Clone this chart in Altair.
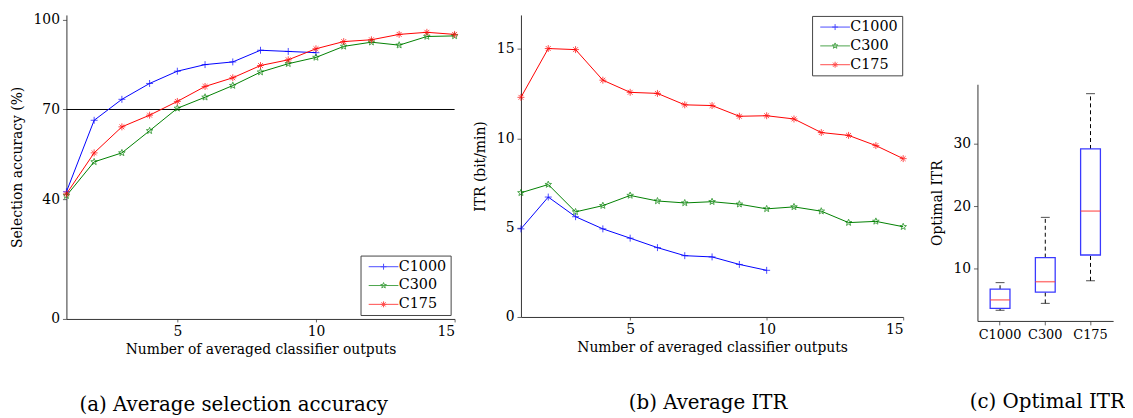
import math
import altair as alt
import pandas as pd

# ---------------- data ----------------
steps = [1, 2, 3, 4, 5, 6, 7, 8, 9, 10, 11, 12, 13, 14, 15]
series = ["C1000", "C300", "C175"]
colors = ["#0000ff", "#008000", "#ff0000"]

acc_c1000 = [42.5, 66.4, 73.4, 78.7, 82.8, 85.0, 85.9, 89.8, 89.4, 89.0]
acc_c300 = [41.2, 52.5, 55.5, 62.9, 70.4, 74.1, 78.0, 82.5, 85.3, 87.4, 91.1, 92.5, 91.5, 94.4, 94.6]
acc_c175 = [41.8, 55.5, 64.2, 68.1, 72.7, 77.7, 80.6, 84.7, 86.6, 90.3, 92.7, 93.3, 95.1, 95.8, 95.1]
acc_threshold = [70]

itr_c1000 = [4.93, 6.71, 5.61, 4.93, 4.41, 3.88, 3.43, 3.36, 2.94, 2.61]
itr_c300 = [6.95, 7.41, 5.88, 6.23, 6.80, 6.49, 6.38, 6.45, 6.31, 6.05, 6.16, 5.92, 5.28, 5.35, 5.05]
itr_c175 = [12.29, 15.02, 14.96, 13.25, 12.57, 12.51, 11.87, 11.83, 11.23, 11.26, 11.08, 10.32, 10.16, 9.59, 8.86]

box_whisker_low = [3.4, 4.5, 8.1]
box_q1 = [3.7, 6.3, 12.2]
box_median = [5.05, 7.95, 19.2]
box_q3 = [6.75, 11.8, 29.1]
box_whisker_high = [7.8, 18.2, 37.9]

acc_ticks = [0, 40, 70, 100]
itr_ticks = [0, 5, 10, 15]
opt_ticks = [10, 20, 30]
x_ticks = [5, 10, 15]

FONT = "DejaVu Serif"
CAP_SIZE = 20

# ---------------- marker shapes ----------------
def star_path(cx=0.0):
    pts = []
    for k in range(10):
        a = math.radians(-90 + 36 * k)
        r = 1.0 if k % 2 == 0 else 0.42
        pts.append((cx + r * math.cos(a), r * math.sin(a)))
    return "M" + "L".join(f"{x:.3f},{y:.3f}" for x, y in pts) + "Z"

def plus_path(cx=0.0):
    return f"M{cx-1},0L{cx+1},0M{cx},-1L{cx},1"

def aster_path(cx=0.0):
    return (f"M{cx-1},0L{cx+1},0M{cx},-1L{cx},1"
            f"M{cx-0.7},-0.7L{cx+0.7},0.7M{cx-0.7},0.7L{cx+0.7},-0.7")

marker_paths = [plus_path(), star_path(), aster_path()]
legend_paths = ["M-1,0L9,0" + plus_path(4), "M-1,0L9,0" + star_path(4), "M-1,0L9,0" + aster_path(4)]


def long_df(vals):
    rows = []
    for s, v in zip(series, vals):
        for x, y in zip(steps, v):
            rows.append({"series": s, "step": x, "value": y})
    return pd.DataFrame(rows)


def make_legend(orient, offset):
    return alt.Legend(
        title=None, orient=orient, offset=offset, fillColor="white",
        strokeColor="#444444", padding=4, rowPadding=4, symbolSize=36,
        symbolStrokeWidth=1, labelOffset=20, labelFontSize=14.5, labelFont=FONT,
        labelColor="black", cornerRadius=0,
    )


def line_panel(vals, ydomain, yticks, ytitle, ytitle_pad, legend_orient, legend_offset,
               width, height, caption, cap_dx, cap_offset, rule_vals=None):
    df = long_df(vals)
    xenc = alt.X("step:Q", scale=alt.Scale(domain=[1, 15], nice=False, zero=False),
                 axis=alt.Axis(values=x_ticks, title="Number of averaged classifier outputs",
                               titlePadding=4, labelPadding=3, tickSize=3))
    yenc = alt.Y("value:Q", scale=alt.Scale(domain=ydomain, nice=False, zero=False),
                 axis=alt.Axis(values=yticks, title=ytitle, titlePadding=ytitle_pad,
                               labelPadding=3, tickSize=4))
    base = alt.Chart(df)
    line = base.mark_line(strokeWidth=1).encode(
        x=xenc, y=yenc,
        color=alt.Color("series:N", scale=alt.Scale(domain=series, range=colors), legend=None),
    )
    pts = base.mark_point(filled=False, strokeWidth=1, size=49).encode(
        x=xenc, y=yenc,
        color=alt.Color("series:N", scale=alt.Scale(domain=series, range=colors), legend=None),
        shape=alt.Shape("series:N", scale=alt.Scale(domain=series, range=marker_paths), legend=None),
    )
    leg = make_legend(legend_orient, legend_offset)
    leg_layer = base.mark_point(filled=False, strokeWidth=1).encode(
        x=xenc, y=yenc,
        color=alt.Color("series:N", scale=alt.Scale(domain=series, range=colors), legend=leg),
        shape=alt.Shape("series:N", scale=alt.Scale(domain=series, range=legend_paths), legend=leg),
    ).transform_filter("false")
    layers = []
    if rule_vals is not None:
        rule = alt.Chart(pd.DataFrame({"v": rule_vals})).mark_rule(color="black", strokeWidth=1).encode(
            y=alt.Y("v:Q", scale=alt.Scale(domain=ydomain, nice=False, zero=False)))
        layers.append(rule)
    layers += [line, pts, leg_layer]
    return alt.layer(*layers).resolve_scale(color="independent", shape="independent").properties(
        width=width, height=height,
        title=alt.Title(caption, orient="bottom", fontSize=CAP_SIZE, font=FONT, fontWeight="normal",
                        color="black", offset=cap_offset, dx=cap_dx, frame="group", anchor="middle"),
    )


panel_a = line_panel([acc_c1000, acc_c300, acc_c175], [0, 101.6], acc_ticks,
                     "Selection accuracy (%)", 9, "bottom-right", 4, 392, 307,
                     "(a) Average selection accuracy", -27, 39, rule_vals=acc_threshold)
panel_b = line_panel([itr_c1000, itr_c300, itr_c175], [0, 16.9], itr_ticks,
                     "ITR (bit/min)", 9, "top-right", 1, 386, 305,
                     "(b) Average ITR", -4, 39)

# ---------------- box plot ----------------
box_df = pd.DataFrame({"cls": series, "wlo": box_whisker_low, "q1": box_q1,
                       "med": box_median, "q3": box_q3, "whi": box_whisker_high})
bx = alt.X("cls:N", sort=series, scale=alt.Scale(paddingInner=0.56, paddingOuter=0.28),
           axis=alt.Axis(title=None, labelAngle=0, labelPadding=4, tickSize=4, labelFontSize=13,
                         labelOverlap=False))
yscale = alt.Scale(domain=[1.7, 39.4], nice=False, zero=False)
by_axis = alt.Axis(values=opt_ticks, title="Optimal ITR", titlePadding=8, labelPadding=3, tickSize=4)
bbase = alt.Chart(box_df)
wh_lo = bbase.mark_rule(color="black", strokeDash=[4, 3], strokeWidth=1).encode(
    x=bx, y=alt.Y("wlo:Q", scale=yscale, axis=by_axis), y2="q1:Q")
wh_hi = bbase.mark_rule(color="black", strokeDash=[4, 3], strokeWidth=1).encode(
    x=bx, y=alt.Y("q3:Q", scale=yscale, axis=by_axis), y2="whi:Q")
box = bbase.mark_bar(width=20, fill="white", stroke="#3a3aff", strokeWidth=1.3).encode(
    x=bx, y=alt.Y("q1:Q", scale=yscale, axis=by_axis), y2="q3:Q")
med = bbase.mark_tick(color="#ff4040", size=20, thickness=1.5).encode(
    x=bx, y=alt.Y("med:Q", scale=yscale, axis=by_axis))
cap_lo = bbase.mark_tick(color="black", size=9, thickness=1).encode(
    x=bx, y=alt.Y("wlo:Q", scale=yscale, axis=by_axis))
cap_hi = bbase.mark_tick(color="black", size=9, thickness=1).encode(
    x=bx, y=alt.Y("whi:Q", scale=yscale, axis=by_axis))
box_chart = alt.layer(wh_lo, wh_hi, box, med, cap_lo, cap_hi).properties(
    width=137, height=239,
    title=alt.Title("(c) Optimal ITR", orient="bottom", fontSize=CAP_SIZE, font=FONT, fontWeight="normal",
                    color="black", offset=51, dx=2, frame="group", anchor="middle"),
)
spacer = alt.Chart(pd.DataFrame({"s": [0]})).mark_point(opacity=0).encode(
    x=alt.value(0), y=alt.value(0)).properties(width=10, height=70)
panel_c = alt.vconcat(spacer, box_chart, spacing=0)

chart = alt.hconcat(alt.hconcat(panel_a, panel_b, spacing=13), panel_c, spacing=22).properties(
    padding={"left": 2, "top": 2, "right": 0, "bottom": 0}, background="white",
).configure(font=FONT).configure_view(strokeWidth=0).configure_axis(
    grid=False, domainColor="#333333", tickColor="#666666", labelColor="black", titleColor="black",
    labelFont=FONT, titleFont=FONT, labelFontSize=14, titleFontSize=14, titleFontWeight="normal",
    domainWidth=1, tickWidth=1,
)

chart.save("out.html", embed_options={"renderer": "svg", "actions": False})
